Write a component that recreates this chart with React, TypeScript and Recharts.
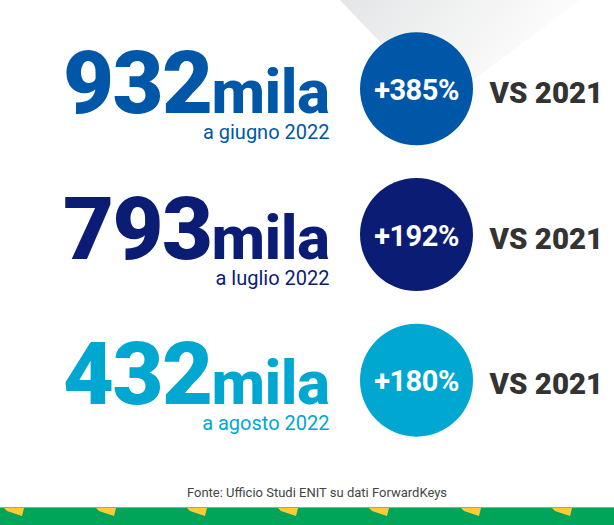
import React from "react";
import { ScatterChart, Scatter, XAxis, YAxis, Customized } from "recharts";

// arrivi (migliaia) per mese, variazione % sul 2021
const months = ["giugno 2022", "luglio 2022", "agosto 2022"];
const arrivals = [932, 793, 432];
const growth = [385, 192, 180];
const baseYear = "2021";
const source = "Fonte: Ufficio Studi ENIT su dati ForwardKeys";

const palette = ["#0057A8", "#0B1C74", "#00A8D1"];
const FONT = "Roboto, 'Noto Sans', sans-serif";

const rows = months.map((m, i) => ({
  month: m,
  arrivals: arrivals[i],
  growth: growth[i],
  base: baseYear,
  color: palette[i],
}));

const W = 614;
const H = 525;

function Badge(props: any) {
  const { cx, cy, payload } = props;
  if (cx == null || cy == null) return null;
  const c = payload.color;
  return (
    <g>
      <text x={cx - 87} y={cy + 24} textAnchor="end" fill={c} fontFamily={FONT} fontWeight={900}>
        <tspan fontSize={88} letterSpacing={-1.5}>{payload.arrivals}</tspan>
        <tspan fontSize={62} fontWeight={800} letterSpacing={-0.5}>mila</tspan>
      </text>
      <text x={cx - 87} y={cy + 50} textAnchor="end" fill={c} fontFamily={FONT} fontSize={20}>
        a {payload.month}
      </text>
      <circle cx={cx} cy={cy} r={56.5} fill={c} />
      <text x={cx} y={cy + 11} textAnchor="middle" fill="#fff" fontFamily={FONT} fontSize={29} fontWeight={700} letterSpacing={-0.5}>
        +{payload.growth}%
      </text>
      <text x={cx + 73} y={cy + 14} textAnchor="start" fill="#333333" fontFamily={FONT} fontSize={29.5} fontWeight={900}>
        VS {payload.base}
      </text>
    </g>
  );
}

function Decor() {
  const flags = [4, 96, 187, 278, 369, 461, 552];
  return (
    <g>
      <defs>
        <linearGradient id="shade" x1="0" y1="0" x2="1" y2="0.35">
          <stop offset="0" stopColor="#e4e5e6" />
          <stop offset="1" stopColor="#ffffff" />
        </linearGradient>
      </defs>
      <polygon points="340,0 580,0 440,105" fill="url(#shade)" />
      <rect x={0} y={507} width={W} height={18} fill="#00A55A" />
      <rect x={0} y={507} width={W} height={1} fill="#5fc48f" />
      {flags.map((x) => (
        <polygon
          key={x}
          points={`${x},508 ${x + 20},508 ${x + 18},516 ${x + 3},511`}
          fill="#FFCB35"
        />
      ))}
      <text x={317} y={497} textAnchor="middle" fill="#444" fontFamily={FONT} fontSize={13}>
        {source}
      </text>
    </g>
  );
}

export default function App() {
  return (
    <div style={{ position: "absolute", left: 0, top: 0, width: W, height: H, background: "#fff" }}>
      <ScatterChart width={W} height={H} data={rows} margin={{ top: 16, right: 101, bottom: 72, left: 320 }}>
        <Customized component={Decor} />
        <XAxis type="category" dataKey="base" allowDuplicatedCategory={false} hide />
        <YAxis type="category" dataKey="month" reversed hide width={0} />
        <Scatter data={rows} shape={Badge} isAnimationActive={false} />
      </ScatterChart>
    </div>
  );
}
